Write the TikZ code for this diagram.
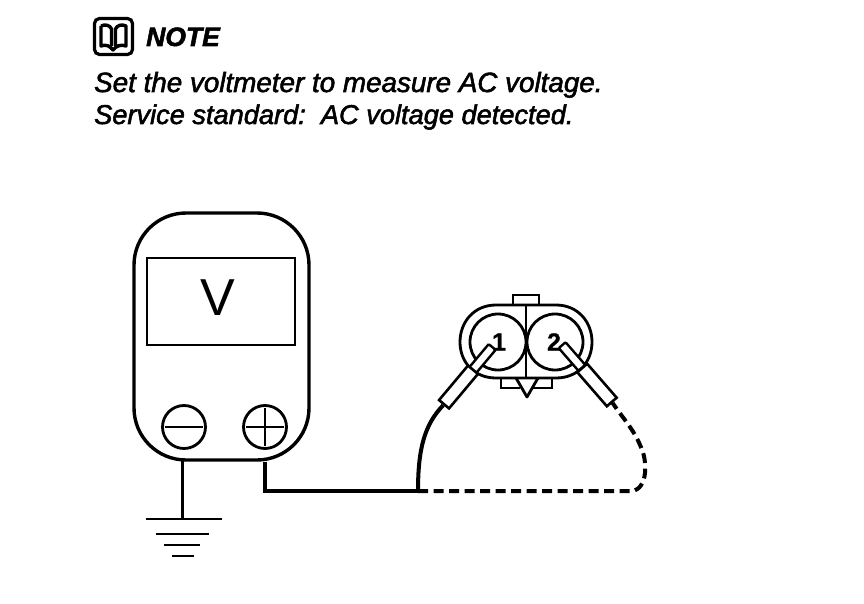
\documentclass[tikz,border=0pt]{standalone}
\usepackage{fontspec}
\setmainfont{Liberation Sans}
\usetikzlibrary{calc}
\tikzstyle{meter} = [rectangle, rounded corners=52pt, minimum width=175pt, minimum height=247pt, draw=black, line width=3.4pt]
\tikzstyle{display} = [rectangle, minimum width=148pt, minimum height=87pt, draw=black, line width=1.8pt]
\tikzstyle{terminal} = [circle, minimum size=43pt, inner sep=0pt, draw=black, line width=2.8pt]
\tikzstyle{pin} = [circle, minimum size=56pt, inner sep=0pt, draw=black, line width=2.8pt]
\tikzstyle{tipbox} = [rectangle, rounded corners=1pt, minimum width=30pt, minimum height=9pt, inner sep=0pt, draw=black, fill=white, line width=2.4pt]
\tikzstyle{gripbox} = [rectangle, minimum width=45pt, minimum height=13pt, inner sep=0pt, draw=black, fill=white, line width=2.6pt]
\tikzstyle{wire} = [line width=4pt]
\tikzstyle{dashwire} = [line width=4pt, dash pattern=on 10pt off 5.5pt]
\tikzstyle{notetext} = [anchor=base west, inner sep=0pt, font=\fontsize{27.8}{27.8}\selectfont\itshape\addfontfeature{FakeBold=2}]
\tikzstyle{pinlabel} = [inner sep=0pt, font=\fontsize{25}{25}\selectfont\bfseries\addfontfeature{FakeBold=1}]
\begin{document}
\begin{tikzpicture}[x=1pt, y=-1pt]
    \useasboundingbox (0,0) rectangle (864,604);

    % Note
    \node (icon) [rectangle, rounded corners=5pt, minimum width=38pt, minimum height=36pt, draw=black, line width=3.2pt] at (113.5,36.5) {};
    \draw [line width=3.4pt, line join=round] (101,26) -- (101,46) .. controls (106,44) and (110,46) .. (113,50) .. controls (116,46) and (121,44) .. (126,46) -- (126,26) .. controls (122,24) and (117,25) .. (115.5,29) -- (115.5,46) (111.5,46) -- (111.5,29) .. controls (110,25) and (105,24) .. (101,26);
    \node (notehead) [notetext, font=\fontsize{26.5}{26.5}\selectfont\bfseries\itshape\addfontfeature{FakeBold=2}] at (146,46) {NOTE};
    \node (noteone) [notetext] at (94,92) {Set the voltmeter to measure AC voltage.};
    \node (notetwo) [notetext, font=\fontsize{27.2}{27.2}\selectfont\itshape\addfontfeature{FakeBold=2}] at (94,124) {Service standard:\ \ AC voltage detected.};

    % Meter
    \node (body) [meter] at (221.5,336.5) {};
    \node (screen) [display] at (221,301.5) {};
    \node (volt) [font=\fontsize{52}{52}\selectfont] at (218,298) {V};
    \node (minus) [terminal] at (184,427) {};
    \node (plus) [terminal] at (265,427) {};
    \draw [line width=1.8pt] (minus.west) ++(4,0) -- ($(minus.east)+(-4,0)$);
    \draw [line width=1.2pt] (plus.west) ++(4,0) -- ($(plus.east)+(-4,0)$);
    \draw [line width=1.2pt] (plus.north) ++(0,4) -- ($(plus.south)+(0,-4)$);

    % Ground
    \coordinate (gndtop) at (182,461);
    \coordinate (gndbar) at (182,519);
    \draw [line width=3pt] (gndtop) -- (gndbar);
    \draw [line width=2.6pt] (146,519) -- (222,519);
    \draw [line width=2.8pt] (156,534) -- (209,534);
    \draw [line width=2.8pt] (164,545) -- (200,545);
    \draw [line width=2.4pt] (172,556) -- (194,556);

    % Connector
    \draw [line width=2.8pt] (513,305) -- (513,295) -- (539,295) -- (539,305);
    \draw [line width=2.8pt] (501,378) -- (501,388) -- (520,388) (532,388) -- (552,388) -- (552,378);
    \draw [line width=2.8pt, line join=round] (516,378) -- (527,397) -- (538,378);
    \draw [line width=2.8pt, fill=white] (496,305) -- (556,305) .. controls (578,305) and (592,322) .. (592,342) .. controls (592,362) and (578,378) .. (556,378) -- (496,378) .. controls (474,378) and (460,362) .. (460,342) .. controls (460,322) and (474,305) .. (496,305) -- cycle;
    \node (pinone) [pin] at (498,342) {};
    \node (pintwo) [pin] at (555,342) {};
    \draw [line width=2.8pt] (526,305) -- (526,378);

    % Probes
    \node (tipone) [tipbox, rotate=50] at (482.5,358.5) {};
    \node (gripone) [gripbox, rotate=50] at (458.5,387) {};
    \node (tiptwo) [tipbox, rotate=-49] at (572,356.5) {};
    \node (griptwo) [gripbox, rotate=-49] at (597,385) {};
    \node (one) [pinlabel] at (499,342) {1};
    \node (two) [pinlabel] at (554,342) {2};

    % Arrows
    \coordinate (wireturn) at (265,491);
    \coordinate (wirejoin) at (418,491);
    \coordinate (wireend) at (632,491);
    \draw [wire, line join=miter] (plus |- body.south) -- (wireturn) -- (wirejoin);
    \draw [wire] (wirejoin) .. controls (418,450) and (424,425) .. (gripone.west);
    \draw [dashwire] (wirejoin) -- (wireend) .. controls (648,489) and (648,460) .. (640,445) .. controls (634,430) and (622,417) .. (griptwo.east);
\end{tikzpicture}
\end{document}
